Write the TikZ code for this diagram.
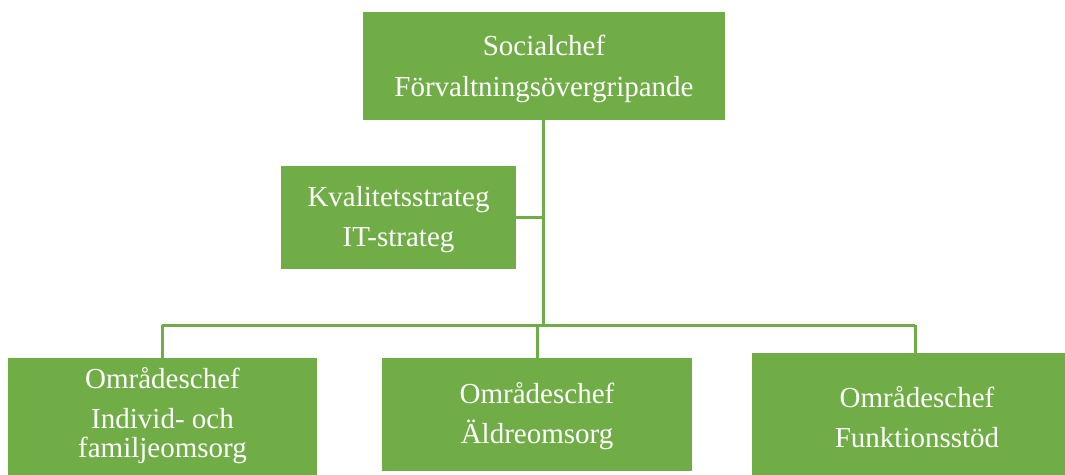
\documentclass[tikz,border=0pt]{standalone}
\usepackage{fontspec}
\setmainfont{Liberation Serif}
\definecolor{orggreen}{RGB}{112,173,71}
\begin{document}
\begin{tikzpicture}[x=1pt,y=-1pt,
  box/.style={rectangle,fill=orggreen,draw=none,inner sep=0pt},
  txt/.style={anchor=base,text=white,inner sep=0pt,font=\fontsize{29}{40}\selectfont},
  conn/.style={draw=orggreen,line width=3pt}]
\useasboundingbox (0,0) rectangle (1065,474);
\clip (0,0) rectangle (1065,474);
% boxes
\node[box,minimum width=362pt,minimum height=108pt] (top) at (544,66) {};
\node[box,minimum width=235pt,minimum height=103pt] (kval) at (398.5,217.5) {};
\node[box,minimum width=309pt,minimum height=122pt] (left) at (162.5,419) {};
\node[box,minimum width=310pt,minimum height=113pt] (mid) at (537,414.5) {};
\node[box,minimum width=330pt,minimum height=127pt] (right) at (917,416.5) {};
% texts
\node[txt] (t1) at (544,55) {Socialchef};
\node[txt] (t2) at (544,96) {Förvaltningsövergripande};
\node[txt] (k1) at (398.5,206.7) {Kvalitetsstrateg};
\node[txt] (k2) at (398.5,246.7) {IT-strateg};
\node[txt] (l1) at (162.5,388) {Områdeschef};
\node[txt] (l2) at (162.5,428) {Individ- och};
\node[txt] (l3) at (162.5,457) {familjeomsorg};
\node[txt] (m1) at (537,403) {Områdeschef};
\node[txt] (m2) at (537,443) {Äldreomsorg};
\node[txt] (r1) at (917,407) {Områdeschef};
\node[txt] (r2) at (917,447) {Funktionsstöd};
% connectors
\coordinate (hub) at (543,325);
\coordinate (busL) at (162,325);
\coordinate (busR) at (915,325);
\draw[conn] (top.south -| hub) -- (hub);
\draw[conn] (kval.east) -- (kval.east -| hub);
\draw[conn] (busL) -- (busR);
\draw[conn] (busL) -- (left.north -| busL);
\draw[conn] (hub -| mid.north) -- (mid.north);
\draw[conn] (busR) -- (right.north -| busR);
\end{tikzpicture}
\end{document}
